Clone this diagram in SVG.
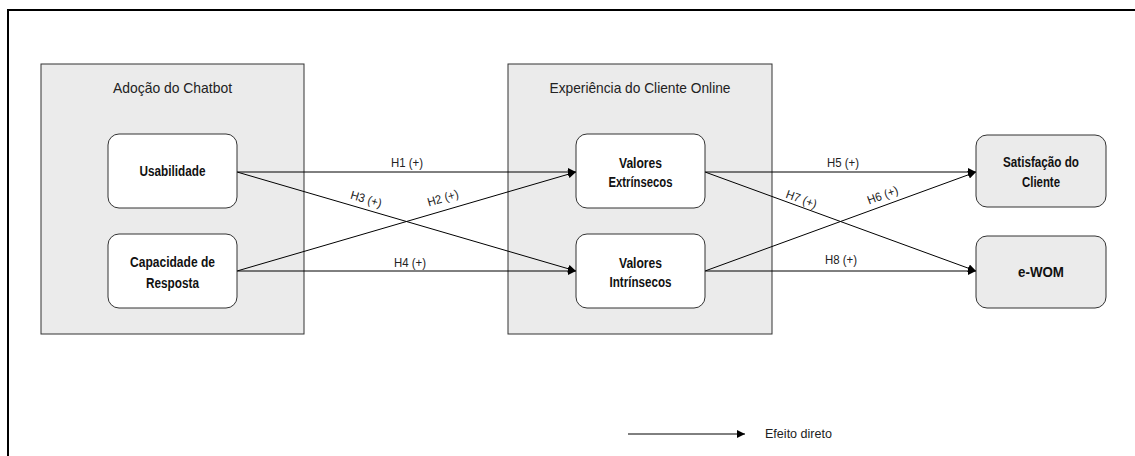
<svg xmlns="http://www.w3.org/2000/svg" width="1135" height="456" viewBox="0 0 1135 456">
  <defs>
    <marker id="arrow" viewBox="0 0 10 10" refX="10" refY="5" markerWidth="8" markerHeight="8" markerUnits="userSpaceOnUse" orient="auto">
      <path d="M0,0 L10,5 L0,10 Z" fill="#000"/>
    </marker>
    <style>
      .frame { fill: #fff; stroke: #000; stroke-width: 2; }
      .group { fill: #ebebeb; stroke: #333; stroke-width: 1; }
      .node { fill: #fff; stroke: #333; stroke-width: 1; }
      .node.out { fill: #ebebeb; }
      .title { font-family: "Liberation Sans Narrow", "Liberation Sans", Arial, sans-serif; font-size: 15px; fill: #222; text-anchor: middle; }
      .label { font-family: "Liberation Sans Narrow", "Liberation Sans", Arial, sans-serif; font-size: 14.5px; font-weight: bold; fill: #111; text-anchor: middle; }
      .hyp { font-family: "Liberation Sans Narrow", "Liberation Sans", Arial, sans-serif; font-size: 12px; fill: #222; text-anchor: middle; }
      .edge { stroke: #000; stroke-width: 1; fill: none; marker-end: url(#arrow); }
    </style>
  </defs>

  <!-- outer frame -->
  <rect class="frame" x="8" y="10" width="1140" height="460"/>

  <!-- containers -->
  <g id="grp-adocao">
    <rect class="group" x="41" y="64" width="263" height="270"/>
    <text class="title" x="172.5" y="93" textLength="119" lengthAdjust="spacingAndGlyphs">Adoção do Chatbot</text>
  </g>
  <g id="grp-experiencia">
    <rect class="group" x="508" y="64" width="264" height="270"/>
    <text class="title" x="640" y="93" textLength="181" lengthAdjust="spacingAndGlyphs">Experiência do Cliente Online</text>
  </g>

  <!-- connectors -->
  <g id="connectors">
    <line class="edge" x1="237" y1="172" x2="576" y2="172"/>
    <line class="edge" x1="237" y1="271" x2="576" y2="172"/>
    <line class="edge" x1="237" y1="172" x2="576" y2="271"/>
    <line class="edge" x1="237" y1="271" x2="576" y2="271"/>
    <line class="edge" x1="705" y1="172" x2="976" y2="172"/>
    <line class="edge" x1="705" y1="271" x2="976" y2="172"/>
    <line class="edge" x1="705" y1="172" x2="976" y2="271"/>
    <line class="edge" x1="705" y1="271" x2="976" y2="271"/>

    <text class="hyp" x="407" y="167" textLength="32" lengthAdjust="spacingAndGlyphs">H1 (+)</text>
    <text class="hyp" transform="translate(444,202) rotate(-16.3)" textLength="32" lengthAdjust="spacingAndGlyphs">H2 (+)</text>
    <text class="hyp" transform="translate(365,203) rotate(16.3)" textLength="32" lengthAdjust="spacingAndGlyphs">H3 (+)</text>
    <text class="hyp" x="410" y="267" textLength="32" lengthAdjust="spacingAndGlyphs">H4 (+)</text>
    <text class="hyp" x="843" y="167" textLength="32" lengthAdjust="spacingAndGlyphs">H5 (+)</text>
    <text class="hyp" transform="translate(884,199) rotate(-20)" textLength="32" lengthAdjust="spacingAndGlyphs">H6 (+)</text>
    <text class="hyp" transform="translate(800,203) rotate(20)" textLength="32" lengthAdjust="spacingAndGlyphs">H7 (+)</text>
    <text class="hyp" x="841" y="264" textLength="32" lengthAdjust="spacingAndGlyphs">H8 (+)</text>
  </g>

  <!-- nodes -->
  <g id="usabilidade">
    <rect class="node" x="108" y="134" width="129" height="74" rx="11"/>
    <text class="label" x="172.5" y="176" textLength="66" lengthAdjust="spacingAndGlyphs">Usabilidade</text>
  </g>
  <g id="capacidade">
    <rect class="node" x="108" y="234" width="129" height="74" rx="11"/>
    <text class="label" x="172.5" y="267" textLength="85" lengthAdjust="spacingAndGlyphs">Capacidade de</text>
    <text class="label" x="172.5" y="288" textLength="53" lengthAdjust="spacingAndGlyphs">Resposta</text>
  </g>
  <g id="extrinsecos">
    <rect class="node" x="576" y="134" width="129" height="74" rx="11"/>
    <text class="label" x="640.5" y="168" textLength="43" lengthAdjust="spacingAndGlyphs">Valores</text>
    <text class="label" x="640.5" y="187" textLength="64" lengthAdjust="spacingAndGlyphs">Extrínsecos</text>
  </g>
  <g id="intrinsecos">
    <rect class="node" x="576" y="234" width="129" height="74" rx="11"/>
    <text class="label" x="640.5" y="268" textLength="43" lengthAdjust="spacingAndGlyphs">Valores</text>
    <text class="label" x="640.5" y="287" textLength="62" lengthAdjust="spacingAndGlyphs">Intrínsecos</text>
  </g>
  <g id="satisfacao">
    <rect class="node out" x="976" y="135" width="130" height="72" rx="11"/>
    <text class="label" x="1041" y="167" textLength="76" lengthAdjust="spacingAndGlyphs">Satisfação do</text>
    <text class="label" x="1041" y="187" textLength="38" lengthAdjust="spacingAndGlyphs">Cliente</text>
  </g>
  <g id="ewom">
    <rect class="node out" x="976" y="236" width="130" height="72" rx="11"/>
    <text class="label" x="1041" y="277" textLength="46" lengthAdjust="spacingAndGlyphs">e-WOM</text>
  </g>

  <!-- legend -->
  <g id="legend">
    <line class="edge" x1="628" y1="434" x2="745" y2="434"/>
    <text class="hyp" x="765" y="438" style="text-anchor:start" textLength="67" lengthAdjust="spacingAndGlyphs">Efeito direto</text>
  </g>
</svg>
